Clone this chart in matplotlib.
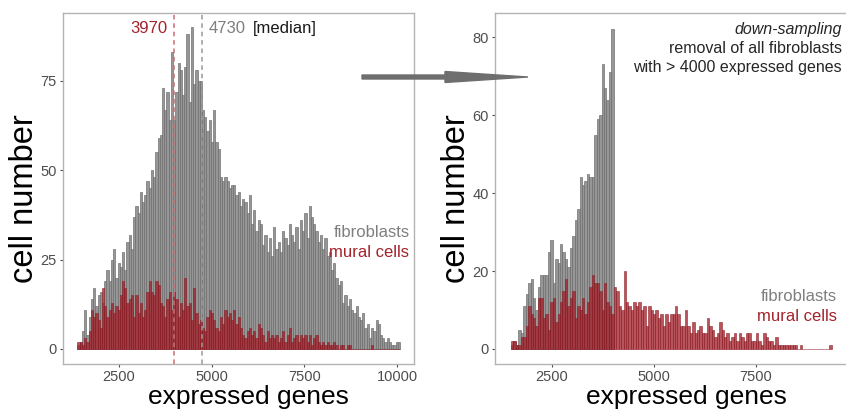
#!/usr/bin/env python
"""
Gene count histograms of fibroblasts and mural cells, before and after down-sampling.
"""

import matplotlib
matplotlib.use("Agg")
import matplotlib.pyplot as plt
import numpy as np
from matplotlib.patches import Polygon

plt.rcParams["font.family"] = ["Liberation Sans", "DejaVu Sans"]

# Histogram data (counts per bin of 60 genes)
binWidth = 60

leftStart = 1380
fibroLeft = [1, 2, 5, 11, 4, 9, 14, 17, 12, 15,
             16, 13, 19, 22, 19, 25, 28, 20, 24, 23,
             27, 22, 30, 32, 28, 37, 40, 38, 44, 41,
             43, 47, 45, 50, 48, 55, 59, 60, 73, 67,
             72, 64, 83, 64, 72, 80, 78, 71, 79, 88,
             69, 90, 74, 78, 75, 75, 67, 65, 61, 64,
             58, 67, 58, 56, 48, 47, 48, 47, 45, 46,
             46, 43, 44, 40, 42, 41, 38, 43, 35, 39,
             33, 36, 35, 29, 32, 27, 31, 26, 34, 28,
             30, 27, 33, 31, 29, 35, 32, 30, 34, 28,
             36, 33, 38, 31, 40, 37, 35, 33, 30, 32,
             28, 31, 26, 27, 22, 24, 20, 18, 19, 13,
             15, 12, 14, 11, 10, 12, 9, 8, 10, 6,
             7, 3, 6, 5, 8, 7, 4, 3, 2, 3,
             2, 1, 1, 2, 2]
muralLeft = [2, 2, 1, 3, 2, 5, 11, 9, 10, 8,
             6, 17, 12, 9, 11, 13, 10, 12, 11, 15,
             19, 17, 13, 14, 15, 9, 15, 10, 13, 9,
             11, 16, 19, 16, 15, 19, 18, 13, 12, 9,
             14, 16, 11, 16, 14, 9, 13, 11, 20, 12,
             13, 8, 17, 10, 7, 8, 6, 5, 9, 11,
             10, 8, 6, 5, 9, 7, 11, 9, 10, 8,
             11, 7, 9, 6, 4, 3, 5, 6, 4, 5,
             3, 7, 6, 4, 2, 5, 3, 4, 3, 4,
             2, 3, 5, 2, 4, 6, 2, 3, 4, 2,
             4, 3, 4, 2, 4, 1, 3, 4, 2, 1,
             2, 1, 2, 1, 1, 2, 1, 0, 1, 1,
             0, 1, 1, 0, 0, 0, 0, 0, 0, 0,
             0, 0, 1, 0, 0, 0, 0, 0, 0, 0,
             0, 0, 0, 0, 0]

rightStart = 1495
fibroRight = [1, 2, 1, 5, 4, 11, 14, 17, 18, 13,
              10, 16, 19, 19, 19, 25, 28, 17, 23, 22,
              27, 25, 23, 21, 26, 29, 33, 36, 44, 42,
              43, 45, 44, 44, 55, 59, 60, 73, 67, 64,
              71, 82]
muralRight = [2, 2, 1, 1, 3, 3, 6, 11, 9, 8,
              6, 13, 13, 8, 9, 5, 12, 13, 7, 9,
              12, 15, 18, 11, 13, 15, 8, 11, 10, 13,
              9, 12, 16, 19, 17, 17, 15, 10, 17, 12,
              11, 9, 16, 15, 11, 10, 20, 12, 11, 10,
              12, 11, 12, 10, 11, 6, 11, 10, 9, 10,
              8, 9, 6, 9, 7, 9, 9, 11, 9, 6,
              6, 10, 6, 4, 7, 4, 5, 6, 4, 4,
              8, 6, 5, 3, 4, 7, 5, 3, 4, 2,
              3, 4, 2, 4, 3, 2, 4, 4, 2, 2,
              4, 2, 1, 4, 3, 2, 2, 1, 3, 1,
              1, 1, 1, 1, 1, 1, 1, 0, 1, 0,
              0, 0, 0, 0, 0, 0, 0, 0, 0, 0,
              1]

medianMural = 3970
medianFibro = 4730

grayFill = "#969696"
grayEdge = "#6a6a6a"
redFill = "#a01c26"
redEdge = "#8b1a22"
redText = "#a3222b"
grayText = "#7f7f7f"
spineCol = "#b3b3b3"
tickCol = "#4d4d4d"


def drawHist(ax, start, fibro, mural):
    """Overlay the two histograms on one axes."""
    fibroEdges = start + binWidth*np.arange(len(fibro))
    muralEdges = start + binWidth*np.arange(len(mural))
    ax.bar(fibroEdges, fibro, width=binWidth, align="edge",
           color=grayFill, edgecolor=grayEdge, lw=0.45, zorder=2)
    ax.bar(muralEdges, mural, width=binWidth, align="edge",
           color=redFill, alpha=0.75, edgecolor=redEdge, lw=0.5, zorder=3)


def styleAxes(ax, xlim, ylim, xticks, yticks):
    ax.set_xlim(xlim)
    ax.set_ylim(ylim)
    ax.set_xticks(xticks)
    ax.set_yticks(yticks)
    for side in ax.spines:
        ax.spines[side].set_color(spineCol)
        ax.spines[side].set_linewidth(1.0)
    ax.tick_params(colors=tickCol, labelsize=10.5, length=2.5, width=0.8, pad=2)
    ax.set_xlabel("expressed genes", fontsize=19)
    ax.set_ylabel("cell number", fontsize=23.5)


W, H = 846, 409
fig = plt.figure(figsize=(W/100, H/100), dpi=100)

# Left panel: all cells
axL = fig.add_axes([63/W, (H-364)/H, (414-63)/W, (364-13)/H])
drawHist(axL, leftStart, fibroLeft, muralLeft)
styleAxes(axL, (989, 10458), (-4.2, 94), [2500, 5000, 7500, 10000], [0, 25, 50, 75])
axL.axvline(medianMural, color="#cc6d73", ls=(0, (3, 2.5)), lw=1.1, zorder=4)
axL.axvline(medianFibro, color="#9a9a9a", ls=(0, (3, 2.5)), lw=1.1, zorder=4)
axL.text(medianMural - 160, 89.8, str(medianMural), color=redText,
         fontsize=12, ha="right", va="center")
axL.text(medianFibro + 180, 89.8, str(medianFibro), color=grayText,
         fontsize=12, ha="left", va="center")
axL.text(6107, 89.8, "[median]", color="#1a1a1a",
         fontsize=12, ha="left", va="center")
axL.text(0.987, 0.376, "fibroblasts", color=grayText, fontsize=12,
         ha="right", va="center", transform=axL.transAxes)
axL.text(0.987, 0.319, "mural cells", color=redText, fontsize=12,
         ha="right", va="center", transform=axL.transAxes)
axL.xaxis.set_label_coords(0.527, -0.06)
axL.yaxis.set_label_coords(-0.066, 0.47)

# Right panel: down-sampled fibroblasts
axR = fig.add_axes([495/W, (H-364)/H, (848-495)/W, (364-13)/H])
drawHist(axR, rightStart, fibroRight, muralRight)
styleAxes(axR, (1103, 9755), (-3.85, 86.2), [2500, 5000, 7500], [0, 20, 40, 60, 80])
axR.spines["right"].set_visible(False)
axR.text(0.983, 0.954, "down-sampling", style="italic", color="#262626",
         fontsize=11.5, ha="right", va="center", transform=axR.transAxes)
axR.text(0.983, 0.900, "removal of all fibroblasts", color="#262626",
         fontsize=11.5, ha="right", va="center", transform=axR.transAxes)
axR.text(0.983, 0.846, "with > 4000 expressed genes", color="#262626",
         fontsize=11.5, ha="right", va="center", transform=axR.transAxes)
axR.text(0.969, 0.191, "fibroblasts", color=grayText, fontsize=12,
         ha="right", va="center", transform=axR.transAxes)
axR.text(0.969, 0.134, "mural cells", color=redText, fontsize=12,
         ha="right", va="center", transform=axR.transAxes)
axR.xaxis.set_label_coords(0.541, -0.06)
axR.yaxis.set_label_coords(-0.066, 0.47)

# Arrow between the panels (pixel positions, y from top)
arrowPx = [(362, 75), (445, 75), (445, 71.5), (528, 77),
           (445, 82.5), (445, 79), (362, 79)]
arrowIn = [(x/100, (H - y)/100) for x, y in arrowPx]
fig.add_artist(Polygon(arrowIn, closed=True, color="#6e6e6e",
                       transform=fig.dpi_scale_trans, zorder=10))

fig.savefig("out.png", dpi=100)
